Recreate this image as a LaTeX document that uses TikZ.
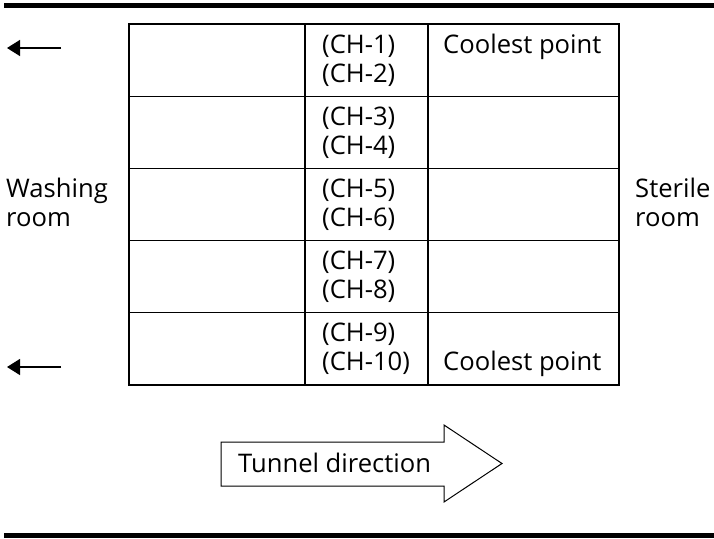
\documentclass[tikz,border=0pt]{standalone}
\usepackage{fontspec}
\setmainfont{Open Sans}
\usetikzlibrary{arrows.meta}

\begin{document}
\begin{tikzpicture}[x=1pt, y=-1pt,
  lbl/.style={anchor=base west, inner sep=0pt, align=left,
              font=\fontsize{25.6}{29}\selectfont},
  grid/.style={line width=1.1pt},
  bar/.style={line width=5pt},
  a/.style={-{Triangle[length=13pt, width=16pt]}, line width=1.3pt}]
  \useasboundingbox (0,0) rectangle (714,538);
  \draw[bar] (4,5.5) -- (714,5.5);
  \draw[bar] (4,535.5) -- (714,535.5);
  % table
  \draw[grid] (129,24) rectangle (619,385);
  \draw[grid] (305,24) -- (305,385);
  \draw[grid] (428,24) -- (428,385);
  \foreach \r in {1,...,4}
    \draw[grid] (129,24+72.2*\r) -- (619,24+72.2*\r);
  \foreach \r in {0,...,4} {
    \pgfmathtruncatemacro\ca{2*\r+1}
    \pgfmathtruncatemacro\cb{2*\r+2}
    \node[lbl] (ch\r) at (322,82+72.2*\r) {(CH-\ca)\\(CH-\cb)};
  }
  \node[lbl] (cp1) at (443,53) {Coolest point};
  \node[lbl] (cp2) at (443,370) {Coolest point};
  \node[lbl] (wash) at (6,226) {Washing\\room};
  \node[lbl] (ster) at (635,226) {Sterile\\room};
  % flow to washing room
  \coordinate (t0) at (61,48);
  \coordinate (t1) at (7,48);
  \coordinate (b0) at (61,367);
  \coordinate (b1) at (7,367);
  \draw[a] (t0) -- (t1);
  \draw[a] (b0) -- (b1);
  % tunnel direction
  \draw[line width=1pt, fill=white] (221,442) -- (444,442) -- (444,425)
    -- (502,463.5) -- (444,502) -- (444,486) -- (221,486) -- cycle;
  \node[lbl] (dir) at (238,472) {Tunnel direction};
\end{tikzpicture}
\end{document}
